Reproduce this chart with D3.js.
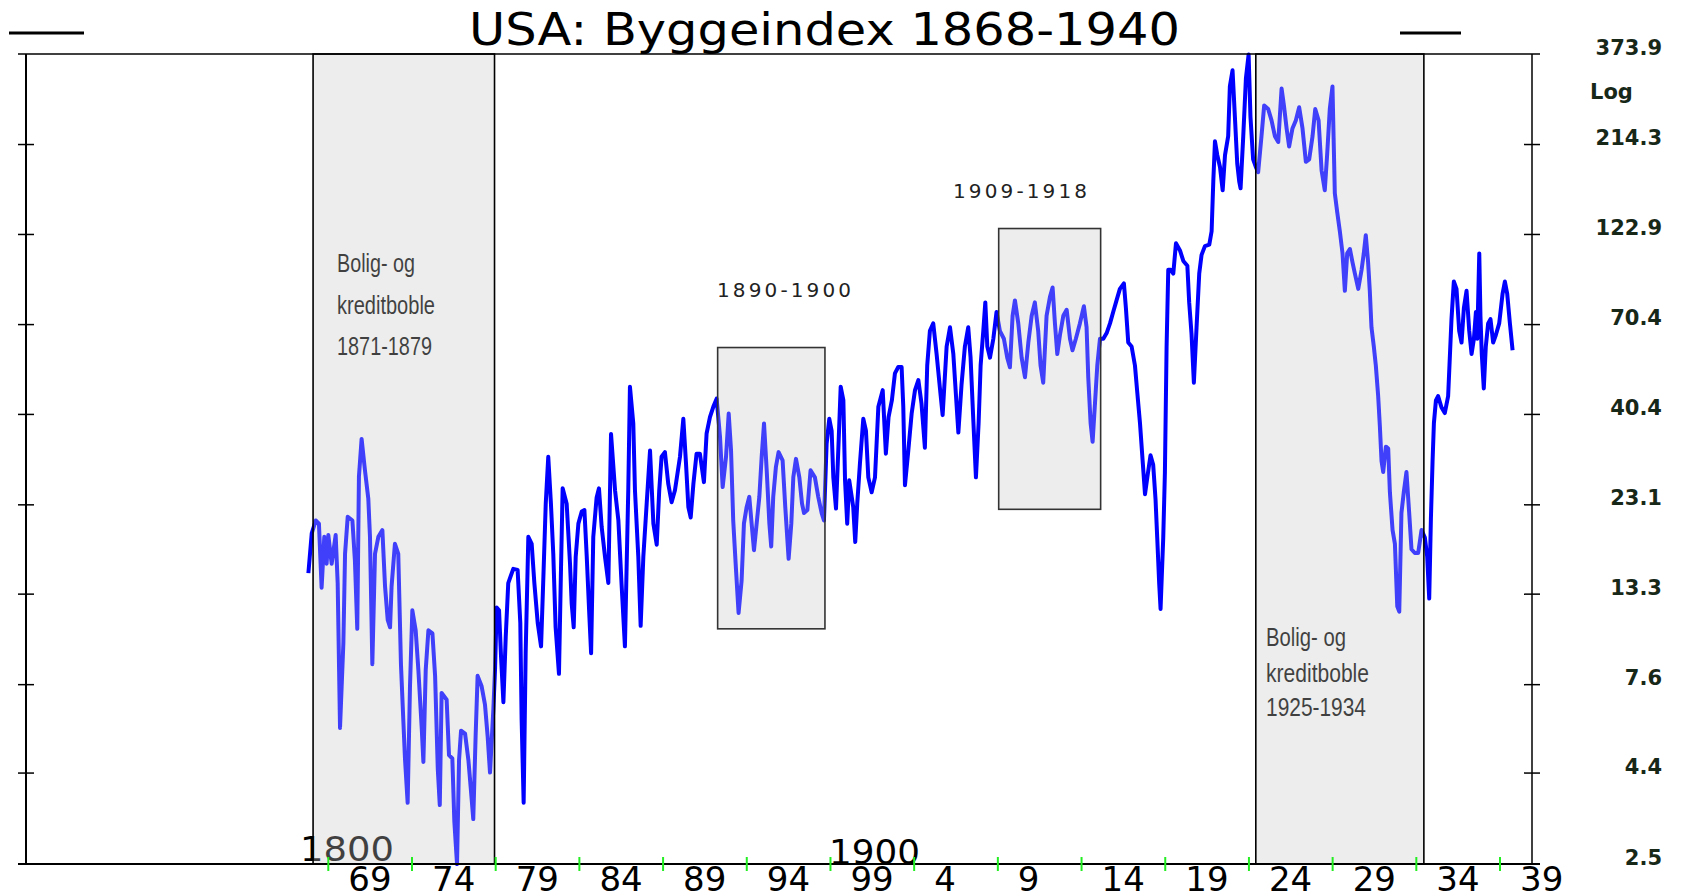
<!DOCTYPE html>
<html lang="no">
<head>
    <meta charset="utf-8">
    <title>USA: Byggeindex 1868-1940</title>
    <script type="text/javascript" src="https://cdn.jsdelivr.net/npm/d3@7/dist/d3.min.js"></script>
    <style type="text/css">
        body { margin: 0; background: #fff; }
        svg { display: block; }
    </style>
</head>
<body>
    <script type="text/javascript">

        const width = 1682;
        const height = 896;
        const plot = { left: 26, right: 1532, top: 54, bottom: 864 };

        // index values, [decimal year, value]
        const s1868 = [[1867.84,15.1],[1868.04,19.3],[1868.28,20.9],[1868.47,20.5],[1868.63,13.8],[1868.79,18.9],[1868.93,16.0],[1869.03,19.1],[1869.23,16.0],[1869.47,19.1],[1869.59,14.2],[1869.73,5.8],[1869.93,9.8],[1870.03,17.0],[1870.19,21.4],[1870.47,20.9],[1870.62,16.3],[1870.76,10.7],[1870.86,27.4],[1871.02,34.6],[1871.22,28.5],[1871.42,23.9],[1871.52,18.9],[1871.66,8.6],[1871.82,17.0],[1872.02,18.9],[1872.26,19.7],[1872.42,13.9],[1872.58,11.3],[1872.72,10.8],[1872.81,13.9],[1873.01,18.1],[1873.21,17.0],[1873.37,8.6],[1873.51,6.1],[1873.61,4.8],[1873.77,3.65],[1873.91,7.5],[1874.05,12.0],[1874.25,10.6],[1874.41,8.3],[1874.61,5.8],[1874.71,4.7],[1874.85,8.3],[1875.01,10.6],[1875.25,10.4],[1875.41,8.0],[1875.57,4.5],[1875.69,3.6],[1875.80,7.2],[1876.10,6.9],[1876.24,4.9],[1876.44,4.8],[1876.56,3.25],[1876.72,2.5],[1876.84,4.75],[1876.96,5.7],[1877.20,5.6],[1877.40,4.75],[1877.55,3.95],[1877.69,3.3],[1877.83,5.5],[1877.95,8.0],[1878.19,7.5],[1878.39,6.7],[1878.55,5.5],[1878.69,4.4],[1878.89,6.5],[1878.99,8.3],[1879.09,12.2],[1879.23,12.0],[1879.35,9.0],[1879.49,6.8],[1879.63,10.2],[1879.78,14.2],[1880.08,15.5],[1880.34,15.4],[1880.50,11.1],[1880.58,6.1],[1880.70,3.65],[1880.82,9.2],[1880.98,18.9],[1881.18,18.1],[1881.34,14.2],[1881.54,11.1],[1881.74,9.6],[1881.88,14.8],[1882.02,23.2],[1882.17,31.0],[1882.33,23.2],[1882.47,17.0],[1882.61,10.8],[1882.81,8.1],[1882.93,15.4],[1883.03,25.5],[1883.27,23.2],[1883.47,16.0],[1883.57,12.5],[1883.69,10.8],[1883.81,16.7],[1883.97,20.5],[1884.17,22.1],[1884.33,22.3],[1884.47,16.7],[1884.61,12.0],[1884.73,9.2],[1884.86,18.9],[1885.06,24.1],[1885.20,25.5],[1885.36,20.1],[1885.56,16.7],[1885.76,14.2],[1885.92,35.7]];

        const s1886 = [[1886.16,25.2],[1886.36,20.9],[1886.55,14.1],[1886.75,9.6],[1886.95,25.2],[1887.05,47.8],[1887.25,38.1],[1887.35,25.2],[1887.55,16.7],[1887.69,10.9],[1887.85,16.7],[1888.05,23.2],[1888.25,32.2],[1888.45,20.5],[1888.65,18.0],[1888.80,25.2],[1888.94,31.0],[1889.14,31.9],[1889.34,26.2],[1889.54,23.4],[1889.74,25.2],[1890.04,31.0],[1890.24,39.2],[1890.40,29.7],[1890.54,22.7],[1890.68,21.3],[1890.84,26.2],[1891.03,31.6],[1891.23,31.6],[1891.47,26.5],[1891.63,35.8],[1891.83,39.6],[1892.03,42.2],[1892.23,44.4],[1892.43,35.1],[1892.59,25.7],[1892.79,31.0],[1892.95,40.5],[1893.09,32.2],[1893.22,20.9],[1893.38,15.6],[1893.54,11.8],[1893.72,14.4],[1893.86,20.5],[1894.02,22.7],[1894.18,24.2],[1894.32,20.5],[1894.46,17.4],[1894.62,20.5],[1894.78,24.2],[1894.92,31.0],[1895.06,38.1],[1895.22,28.5],[1895.38,20.5],[1895.49,17.8],[1895.61,24.2],[1895.77,29.1],[1895.93,31.9],[1896.17,30.3],[1896.33,22.7],[1896.53,16.5],[1896.69,20.5],[1896.81,27.3],[1896.97,30.6],[1897.17,27.3],[1897.33,23.2],[1897.45,21.9],[1897.65,22.3],[1897.84,28.5],[1898.10,27.3],[1898.30,24.2],[1898.50,21.9],[1898.64,20.9],[1898.80,33.6],[1898.96,39.2],[1899.10,36.4],[1899.20,27.3],[1899.36,22.5],[1899.52,34.3],[1899.64,47.8],[1899.80,44.0],[1899.90,26.8],[1900.03,20.5],[1900.15,26.8],[1900.27,24.7],[1900.39,22.7],[1900.51,18.3],[1900.63,23.2],[1900.79,29.7],[1900.99,39.2],[1901.15,36.4],[1901.29,27.3],[1901.49,24.9],[1901.69,27.3],[1901.89,42.2],[1902.15,46.8],[1902.34,31.6],[1902.50,39.6],[1902.70,44.0],[1902.88,51.9],[1903.08,54.0],[1903.28,54.0],[1903.38,42.2],[1903.48,26.0],[1903.68,32.2],[1903.88,40.5],[1904.08,46.8],[1904.28,49.8]];

        const s1904 = [[1904.47,43.0],[1904.67,32.8],[1904.81,54.5],[1904.97,67.5],[1905.17,70.7],[1905.37,58.5],[1905.57,47.3],[1905.73,40.1],[1905.97,61.3],[1906.17,69.0],[1906.37,58.5],[1906.53,45.1],[1906.67,36.0],[1906.86,48.4],[1907.06,61.3],[1907.26,69.0],[1907.40,57.2],[1907.56,39.2],[1907.72,27.3],[1907.88,38.2],[1908.00,54.5],[1908.16,67.5],[1908.28,80.5],[1908.40,61.3],[1908.56,57.2],[1908.76,64.3],[1908.95,75.9],[1909.15,67.5],[1909.39,64.3],[1909.59,57.2],[1909.75,53.9],[1909.91,74.1],[1910.05,81.5],[1910.25,70.7],[1910.45,57.2],[1910.65,50.7],[1910.85,62.8],[1911.05,74.1],[1911.24,80.5],[1911.44,67.5],[1911.58,54.5],[1911.74,49.0],[1911.94,74.1],[1912.14,83.2],[1912.30,88.3],[1912.44,70.7],[1912.58,58.5],[1912.74,65.8],[1912.94,74.1],[1913.14,76.9],[1913.34,64.3],[1913.49,59.9],[1913.69,64.3],[1913.93,70.7],[1914.17,78.6],[1914.33,69.0],[1914.43,50.7],[1914.57,38.2],[1914.69,34.0],[1914.83,43.0],[1914.97,54.5],[1915.13,64.3],[1915.33,64.3],[1915.53,66.6],[1915.73,70.7],[1915.92,75.9],[1916.12,81.5],[1916.32,87.5],[1916.56,90.6],[1916.68,77.7],[1916.82,62.8],[1917.02,61.3],[1917.22,54.5],[1917.36,46.1],[1917.52,38.2],[1917.68,30.2],[1917.82,24.6],[1917.96,27.3],[1918.15,31.3],[1918.31,29.5],[1918.45,23.8],[1918.55,18.8],[1918.67,14.1],[1918.75,12.1],[1918.91,18.8],[1919.01,28.2],[1919.11,61.3],[1919.21,98.5],[1919.35,98.5],[1919.51,96.2],[1919.67,116],[1919.91,111],[1920.11,104],[1920.35,101],[1920.46,80.5],[1920.60,66.2],[1920.74,49.0],[1920.90,69.0],[1921.06,96.2],[1921.20,108],[1921.40,114],[1921.66,115],[1921.80,125],[1921.90,170],[1922.00,218],[1922.14,200],[1922.30,186],[1922.46,161],[1922.60,200],[1922.79,225],[1922.89,306],[1923.05,338],[1923.19,254],[1923.33,190],[1923.45,170]];

        const s1923 = [[1923.53,163],[1923.69,225],[1923.85,322],[1924.01,373],[1924.12,254],[1924.28,195],[1924.44,186],[1924.58,180],[1924.78,225],[1924.94,272],[1925.18,266],[1925.38,248],[1925.58,225],[1925.78,217],[1925.98,302],[1926.12,272],[1926.28,236],[1926.43,211],[1926.63,236],[1926.83,248],[1927.03,269],[1927.23,236],[1927.43,192],[1927.63,195],[1927.83,225],[1927.99,266],[1928.19,248],[1928.37,182],[1928.56,161],[1928.70,200],[1928.86,266],[1929.02,306],[1929.16,158],[1929.30,141],[1929.46,125],[1929.62,109],[1929.76,86.5],[1929.90,109],[1930.06,112],[1930.22,103],[1930.36,96.2],[1930.56,87.5],[1930.76,98.5],[1930.89,109],[1931.01,122],[1931.15,103],[1931.25,86.5],[1931.35,69.0],[1931.49,61.3],[1931.61,54.5],[1931.75,45.1],[1931.85,37.5],[1931.95,30.2],[1932.05,28.2],[1932.21,33.0],[1932.35,32.6],[1932.45,24.9],[1932.61,19.7],[1932.75,18.1],[1932.89,12.3],[1933.01,11.9],[1933.14,21.9],[1933.28,24.9],[1933.44,28.2],[1933.60,22.0],[1933.74,17.5],[1933.94,17.1],[1934.14,17.1],[1934.34,19.7],[1934.54,18.8],[1934.68,16.7],[1934.80,12.9],[1934.90,21.1],[1935.00,30.2],[1935.08,38.2],[1935.20,43.9],[1935.33,45.1],[1935.53,42.1],[1935.73,40.6],[1935.93,45.1],[1936.03,57.2],[1936.13,72.5],[1936.27,91.6],[1936.43,87.5],[1936.59,67.5],[1936.73,62.8],[1936.87,77.7],[1937.03,86.5],[1937.19,67.5],[1937.33,58.5],[1937.47,64.3],[1937.59,75.9],[1937.67,64.3],[1937.79,109],[1937.86,74.1],[1937.94,58.5],[1938.06,47.3],[1938.18,61.3],[1938.32,70.7],[1938.46,72.6],[1938.62,62.8],[1938.78,65.8],[1938.98,70.7],[1939.18,84.8],[1939.32,91.6],[1939.46,84.8],[1939.62,70.7],[1939.78,59.9]];

        const series = s1868.concat(s1886, s1904, s1923);

        const yTicks = [2.5, 4.4, 7.6, 13.3, 23.1, 40.4, 70.4, 122.9, 214.3, 373.9];
        const xTickYears = [1869, 1874, 1879, 1884, 1889, 1894, 1899, 1904, 1909, 1914, 1919, 1924, 1929, 1934, 1939];
        const xTickLabels = ["69", "74", "79", "84", "89", "94", "99", "4", "9", "14", "19", "24", "29", "34", "39"];

        // full height shaded periods (from, to) and the two small boxes (from, to, high, low)
        const bubblePeriods = [[1868.12, 1878.96], [1924.44, 1934.48]];
        const bubbleNotes = [["Bolig- og", "kreditboble", "1871-1879"], ["Bolig- og", "kreditboble", "1925-1934"]];
        const cycleBoxes = [[1892.29, 1898.70, 60.9, 10.7], [1909.08, 1915.17, 127.1, 22.4]];
        const cycleLabels = ["1890-1900", "1909-1918"];

        // Scales
        const x = d3.scaleLinear()
                    .domain([1850.97, 1940.94])
                    .range([plot.left, plot.right]);

        const y = d3.scaleLog()
                    .domain([2.5, 373.9])
                    .range([plot.bottom, plot.top]);

        const svg = d3.select("body")
                    .append("svg")
                    .attr("width", width)
                    .attr("height", height)
                    .style("font-family", "'DejaVu Sans', sans-serif");

        // all box shapes in one list
        const boxes = bubblePeriods.map(p => ({ x0: x(p[0]), x1: x(p[1]), y0: plot.top, y1: plot.bottom }))
            .concat(cycleBoxes.map(b => ({ x0: x(b[0]), x1: x(b[1]), y0: y(b[2]), y1: y(b[3]) })));

        // box fills under the line
        svg.append("g").selectAll("rect")
            .data(boxes)
            .enter()
            .append("rect")
            .attr("x", d => d.x0)
            .attr("y", d => d.y0)
            .attr("width", d => d.x1 - d.x0)
            .attr("height", d => d.y1 - d.y0)
            .attr("fill", "#eeeeee");

        // Line
        const line = d3.line()
            .x(d => x(d[0]))
            .y(d => y(d[1]));

        svg.append("path")
            .datum(series)
            .attr("d", line)
            .attr("fill", "none")
            .attr("stroke", "#0000ff")
            .attr("stroke-width", 4)
            .attr("stroke-linejoin", "round");

        // century markers
        svg.append("text")
            .attr("x", 300).attr("y", 861)
            .attr("font-size", 34)
            .attr("textLength", 94)
            .attr("lengthAdjust", "spacingAndGlyphs")
            .attr("fill", "#000")
            .text("1800");

        svg.append("text")
            .attr("x", 829).attr("y", 864)
            .attr("font-size", 34)
            .attr("textLength", 91)
            .attr("lengthAdjust", "spacingAndGlyphs")
            .attr("fill", "#000")
            .text("1900");

        // bubble notes
        const notePos = [{ x: 337, y: [272, 314, 355], w: [78, 98, 95] },
                         { x: 1266, y: [646, 682, 716], w: [80, 103, 100] }];
        bubbleNotes.forEach((lines, i) => {
            lines.forEach((t, j) => {
                svg.append("text")
                    .attr("x", notePos[i].x)
                    .attr("y", notePos[i].y[j])
                    .attr("font-family", "'Liberation Sans Narrow', 'Liberation Sans', sans-serif")
                    .attr("font-size", 26)
                    .attr("textLength", notePos[i].w[j])
                    .attr("lengthAdjust", "spacingAndGlyphs")
                    .attr("fill", "#000")
                    .text(t);
            });
        });

        // translucent veil over the boxes (greys the line and text inside)
        svg.append("g").selectAll("rect")
            .data(boxes)
            .enter()
            .append("rect")
            .attr("x", d => d.x0)
            .attr("y", d => d.y0)
            .attr("width", d => d.x1 - d.x0)
            .attr("height", d => d.y1 - d.y0)
            .attr("fill", "#eeeeee")
            .attr("fill-opacity", 0.27)
            .attr("stroke", (d, i) => i < 2 ? "#000" : "#333")
            .attr("stroke-width", 1.6);

        // labels over the small boxes
        const cyclePos = [[717, 297], [953, 198]];
        cycleLabels.forEach((t, i) => {
            svg.append("text")
                .attr("x", cyclePos[i][0])
                .attr("y", cyclePos[i][1])
                .attr("font-size", 20)
                .attr("textLength", 134)
                .attr("fill", "#222")
                .text(t);
        });

        // Frame
        svg.append("line")
            .attr("x1", 18).attr("x2", plot.right + 8)
            .attr("y1", plot.top).attr("y2", plot.top)
            .attr("stroke", "#000").attr("stroke-width", 1.5);
        svg.append("line")
            .attr("x1", 18).attr("x2", plot.right + 8)
            .attr("y1", plot.bottom).attr("y2", plot.bottom)
            .attr("stroke", "#000").attr("stroke-width", 2);
        svg.append("line")
            .attr("x1", plot.left).attr("x2", plot.left)
            .attr("y1", plot.top).attr("y2", plot.bottom)
            .attr("stroke", "#000").attr("stroke-width", 2);
        svg.append("line")
            .attr("x1", plot.right).attr("x2", plot.right)
            .attr("y1", plot.top).attr("y2", plot.bottom)
            .attr("stroke", "#000").attr("stroke-width", 1.5);

        // Y ticks on both sides, crossing the axis
        const yAxis = d3.axisRight(y).tickValues(yTicks.slice(1, -1)).tickSize(16).tickFormat("");
        [plot.left, plot.right].forEach(px => {
            const g = svg.append("g")
                .attr("transform", `translate(${px - 8},0)`)
                .call(yAxis);
            g.select(".domain").remove();
            g.selectAll(".tick line").attr("stroke", "#000").attr("stroke-width", 1.5);
        });

        // Right labels
        svg.append("g").selectAll("text")
            .data(yTicks)
            .enter()
            .append("text")
            .attr("x", 1662)
            .attr("y", d => y(d) + 1)
            .attr("text-anchor", "end")
            .attr("font-size", 21)
            .attr("font-weight", "bold")
            .attr("fill", "#182818")
            .text(d => d.toFixed(1));

        svg.append("text")
            .attr("x", 1590).attr("y", 99)
            .attr("font-size", 21)
            .attr("font-weight", "bold")
            .attr("fill", "#182818")
            .text("Log");

        // X axis: green ticks, labels set right of each tick
        const xAxis = d3.axisBottom(x)
            .tickValues(xTickYears)
            .tickSize(14)
            .tickFormat((d, i) => xTickLabels[i]);

        const gx = svg.append("g")
            .attr("transform", `translate(0,${plot.bottom - 7})`)
            .call(xAxis);
        gx.select(".domain").remove();
        gx.selectAll(".tick line").attr("stroke", "#22ee22").attr("stroke-width", 2);
        gx.selectAll(".tick text")
            .attr("x", 20)
            .attr("y", 34)
            .attr("dy", 0)
            .attr("text-anchor", "start")
            .attr("font-size", 34)
            .attr("font-family", "'DejaVu Sans', sans-serif")
            .attr("fill", "#000");

        // Title and the two short rules beside it
        svg.append("text")
            .attr("x", 469).attr("y", 45)
            .attr("font-size", 44)
            .attr("textLength", 711)
            .attr("lengthAdjust", "spacingAndGlyphs")
            .attr("fill", "#000")
            .text("USA: Byggeindex 1868-1940");

        svg.append("line")
            .attr("x1", 9).attr("x2", 84).attr("y1", 33).attr("y2", 33)
            .attr("stroke", "#000").attr("stroke-width", 3);
        svg.append("line")
            .attr("x1", 1400).attr("x2", 1461).attr("y1", 33).attr("y2", 33)
            .attr("stroke", "#000").attr("stroke-width", 3);

    </script>
</body>
</html>
